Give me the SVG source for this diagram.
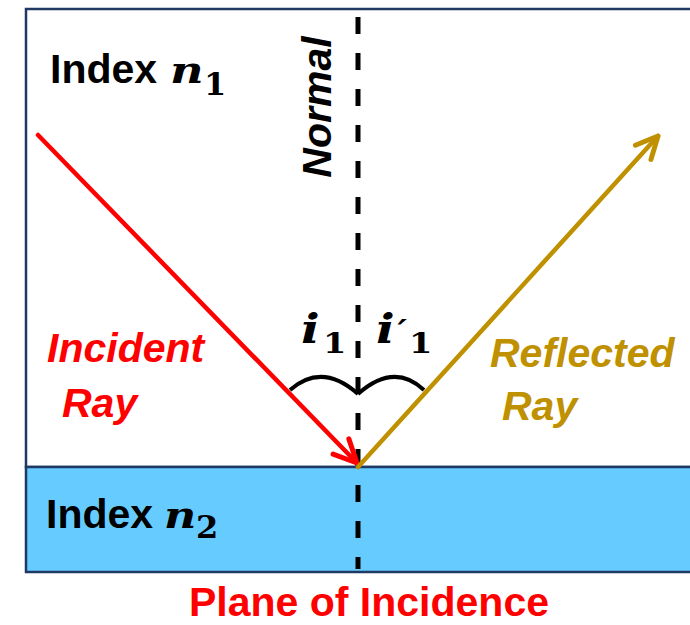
<svg xmlns="http://www.w3.org/2000/svg" width="690" height="625" viewBox="0 0 690 625">
<style>
.lbl{font-family:"Liberation Sans",Arial,sans-serif;font-weight:bold;font-size:41px}
.it{font-style:italic}
.math{font-family:"DejaVu Serif","Liberation Serif",serif;font-weight:bold}
.ray{fill:none;stroke-width:4.5;stroke-linecap:round}
.head{fill:none;stroke-width:5;stroke-linecap:round;stroke-linejoin:round}
</style>
<defs>
<marker id="arrR" markerUnits="userSpaceOnUse" markerWidth="60" markerHeight="60" refX="0" refY="0" orient="auto" overflow="visible">
<path d="M-23,-11 L0,0 L-23,11" class="head" stroke="#FF0000"/>
</marker>
<marker id="arrG" markerUnits="userSpaceOnUse" markerWidth="60" markerHeight="60" refX="0" refY="0" orient="auto" overflow="visible">
<path d="M-22,-10.5 L0,0 L-22,10.5" class="head" stroke="#BF9000"/>
</marker>
</defs>
<rect width="690" height="625" fill="#FFFFFF"/>
<g id="medium1">
<rect x="26" y="9" width="680" height="458" fill="#FFFFFF" stroke="#1F3864" stroke-width="2.5"/>
<text class="lbl" x="50" y="83">Index</text>
<text class="math it" transform="translate(170,83) scale(1.25,1)" font-size="37">n</text>
<text class="math" x="204" y="95" font-size="32">1</text>
</g>
<g id="medium2">
<rect x="26" y="467" width="680" height="105" fill="#66CCFF" stroke="#1F3864" stroke-width="2.5"/>
<text class="lbl" x="46" y="528">Index</text>
<text class="math it" transform="translate(164,528) scale(1.2,1)" font-size="37">n</text>
<text class="math" x="196" y="538" font-size="32">2</text>
</g>
<g id="normal">
<line x1="358" y1="17" x2="358" y2="569" stroke="#000000" stroke-width="5" stroke-dasharray="17 19"/>
<text class="lbl it" transform="translate(331,107) rotate(-90)" text-anchor="middle" font-size="42">Normal</text>
</g>
<g id="connectors">
<line id="incident-ray" class="ray" x1="38" y1="135" x2="357" y2="463" stroke="#FF0000" marker-end="url(#arrR)"/>
<line id="reflected-ray" class="ray" x1="358" y1="467" x2="658" y2="136" stroke="#BF9000" marker-end="url(#arrG)"/>
</g>
<g id="angles">
<path d="M290,390 Q322,362 358,394" fill="none" stroke="#000000" stroke-width="4"/>
<path d="M358,394 Q394,362 424,390" fill="none" stroke="#000000" stroke-width="4"/>
<text class="math" transform="translate(301,343) scale(1.2,1)" font-size="41"><tspan font-style="italic">i</tspan><tspan x="18.3" y="10" font-size="28">1</tspan></text>
<text class="math" transform="translate(376,343) scale(1.2,1)" font-size="41"><tspan font-style="italic">i</tspan><tspan x="18" y="-2" font-size="30" font-style="italic">′</tspan><tspan x="27.5" y="10" font-size="28">1</tspan></text>
</g>
<g id="incident-label">
<text class="lbl it" x="47" y="362" fill="#FF0000">Incident</text>
<text class="lbl it" x="62" y="417" fill="#FF0000">Ray</text>
</g>
<g id="reflected-label">
<text class="lbl it" x="490" y="367" fill="#BF9000">Reflected</text>
<text class="lbl it" x="502" y="420" fill="#BF9000">Ray</text>
</g>
<g id="title">
<text class="lbl" x="369" y="616" text-anchor="middle" fill="#FF0000" font-size="40">Plane of Incidence</text>
</g>
</svg>
